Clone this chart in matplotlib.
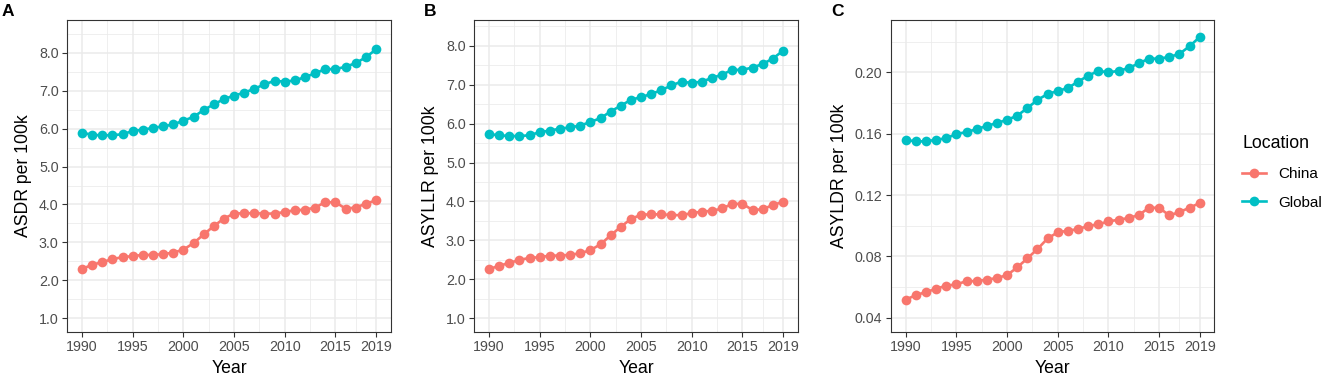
import matplotlib
matplotlib.use("Agg")
import matplotlib.pyplot as plt
from matplotlib.lines import Line2D
import numpy as np

plt.rcParams['font.family'] = ['Liberation Sans', 'DejaVu Sans']

years = list(range(1990, 2020))

asdr_china = [2.30, 2.41, 2.48, 2.56, 2.61, 2.64, 2.67, 2.67, 2.69, 2.73,
              2.81, 2.98, 3.21, 3.43, 3.63, 3.76, 3.77, 3.77, 3.76, 3.76,
              3.80, 3.85, 3.86, 3.92, 4.06, 4.06, 3.89, 3.92, 4.02, 4.11]
asdr_global = [5.89, 5.84, 5.82, 5.83, 5.85, 5.94, 5.97, 6.02, 6.06, 6.11,
               6.21, 6.31, 6.49, 6.64, 6.78, 6.87, 6.95, 7.05, 7.17, 7.26,
               7.24, 7.27, 7.36, 7.46, 7.57, 7.57, 7.63, 7.73, 7.88, 8.09]

asyllr_china = [2.26, 2.35, 2.42, 2.50, 2.55, 2.57, 2.61, 2.61, 2.63, 2.67,
                2.75, 2.90, 3.13, 3.35, 3.55, 3.66, 3.67, 3.67, 3.65, 3.65,
                3.70, 3.74, 3.76, 3.82, 3.94, 3.94, 3.78, 3.80, 3.91, 3.99]
asyllr_global = [5.73, 5.70, 5.68, 5.68, 5.70, 5.78, 5.82, 5.87, 5.90, 5.95,
                 6.04, 6.14, 6.31, 6.46, 6.61, 6.68, 6.76, 6.86, 6.98, 7.08,
                 7.04, 7.08, 7.17, 7.26, 7.38, 7.38, 7.44, 7.53, 7.67, 7.87]

asyldr_china = [0.0517, 0.0548, 0.0567, 0.0589, 0.0609, 0.0617, 0.0639, 0.0639, 0.0648, 0.0659,
                0.0678, 0.0728, 0.0787, 0.0848, 0.0917, 0.0957, 0.0967, 0.0978, 0.0998, 0.1009,
                0.1028, 0.1039, 0.1050, 0.1070, 0.1117, 0.1117, 0.1067, 0.1089, 0.1117, 0.1148]
asyldr_global = [0.1559, 0.1550, 0.1550, 0.1560, 0.1570, 0.1598, 0.1610, 0.1630, 0.1650, 0.1670,
                 0.1690, 0.1717, 0.1767, 0.1820, 0.1859, 0.1878, 0.1898, 0.1939, 0.1978, 0.2009,
                 0.2000, 0.2009, 0.2028, 0.2059, 0.2089, 0.2089, 0.2100, 0.2120, 0.2170, 0.2230]

panel_letters = ["A", "B", "C"]
y_titles = ["ASDR per 100k", "ASYLLR per 100k", "ASYLDR per 100k"]
x_ticks = [1990, 1995, 2000, 2005, 2010, 2015, 2019]
x_minor = [1992.5, 1997.5, 2002.5, 2007.5, 2012.5, 2017]
locations = ["China", "Global"]
colors = {"China": "#F8766D", "Global": "#00BFC4"}

panels = [
    (asdr_china, asdr_global, [1, 2, 3, 4, 5, 6, 7, 8], "{:.1f}", (0.645, 8.865)),
    (asyllr_china, asyllr_global, [1, 2, 3, 4, 5, 6, 7, 8], "{:.1f}", (0.656, 8.66)),
    (asyldr_china, asyldr_global, [0.04, 0.08, 0.12, 0.16, 0.20], "{:.2f}", (0.0309, 0.2341)),
]

W, H = 1325, 379
fig = plt.figure(figsize=(W / 100, H / 100), dpi=100)

lefts = [67.3, 474.3, 891.0]
ax_w = 323.4
top_px, bot_px = 20.0, 331.7
letter_x = [2, 424, 831]

grid_col = "#EBEBEB"
LW, MS = 1.9, 7.0
for i, (china, glob, yt, fmt, ylim) in enumerate(panels):
    ax = fig.add_axes([lefts[i] / W, 1 - bot_px / H, ax_w / W, (bot_px - top_px) / H])
    ax.set_xlim(1988.55, 2020.45)
    ax.set_ylim(*ylim)
    step = yt[1] - yt[0]
    ymin_all = [yt[0] - step / 2] + [v + step / 2 for v in yt]
    for v in ymin_all:
        if ylim[0] < v < ylim[1]:
            ax.axhline(v, color=grid_col, lw=0.55, zorder=0)
    for v in x_minor:
        ax.axvline(v, color=grid_col, lw=0.55, zorder=0)
    for v in yt:
        ax.axhline(v, color=grid_col, lw=1.1, zorder=0)
    for v in x_ticks:
        ax.axvline(v, color=grid_col, lw=1.1, zorder=0)

    for name, vals in zip(locations, [china, glob]):
        ax.plot(years, vals, color=colors[name], lw=LW, marker="o",
                markersize=MS, markeredgewidth=0, zorder=3, label=name)

    ax.set_xticks(x_ticks)
    ax.set_yticks(yt)
    ax.set_yticklabels([fmt.format(v) for v in yt])
    ax.tick_params(axis="both", colors="#333333", labelcolor="#4D4D4D",
                   labelsize=10.3, length=3.7, width=0.8, pad=2.5)
    for s in ax.spines.values():
        s.set_color("#333333")
        s.set_linewidth(0.8)
    ax.set_xlabel("Year", fontsize=12.7, color="black", labelpad=4)
    ax.set_ylabel(y_titles[i], fontsize=12.7, color="black", labelpad=5)
    fig.text(letter_x[i] / W, 1 - 4 / H, panel_letters[i], fontsize=12.5, fontweight="bold",
             ha="left", va="top")

fig.text(1243 / W, 1 - 143 / H, "Location", fontsize=12.7, ha="left", va="center")
handles = [Line2D([0], [0], color=colors[n], lw=LW, marker="o", markersize=MS,
                  markeredgewidth=0) for n in locations]
leg = fig.legend(handles, locations, loc="upper left",
                 bbox_to_anchor=(1242 / W, 1 - 167 / H), frameon=False,
                 fontsize=11, handlelength=1.55,
                 handletextpad=0.85, labelspacing=0.95, borderaxespad=0,
                 borderpad=0)

fig.savefig("out.png", dpi=100)
